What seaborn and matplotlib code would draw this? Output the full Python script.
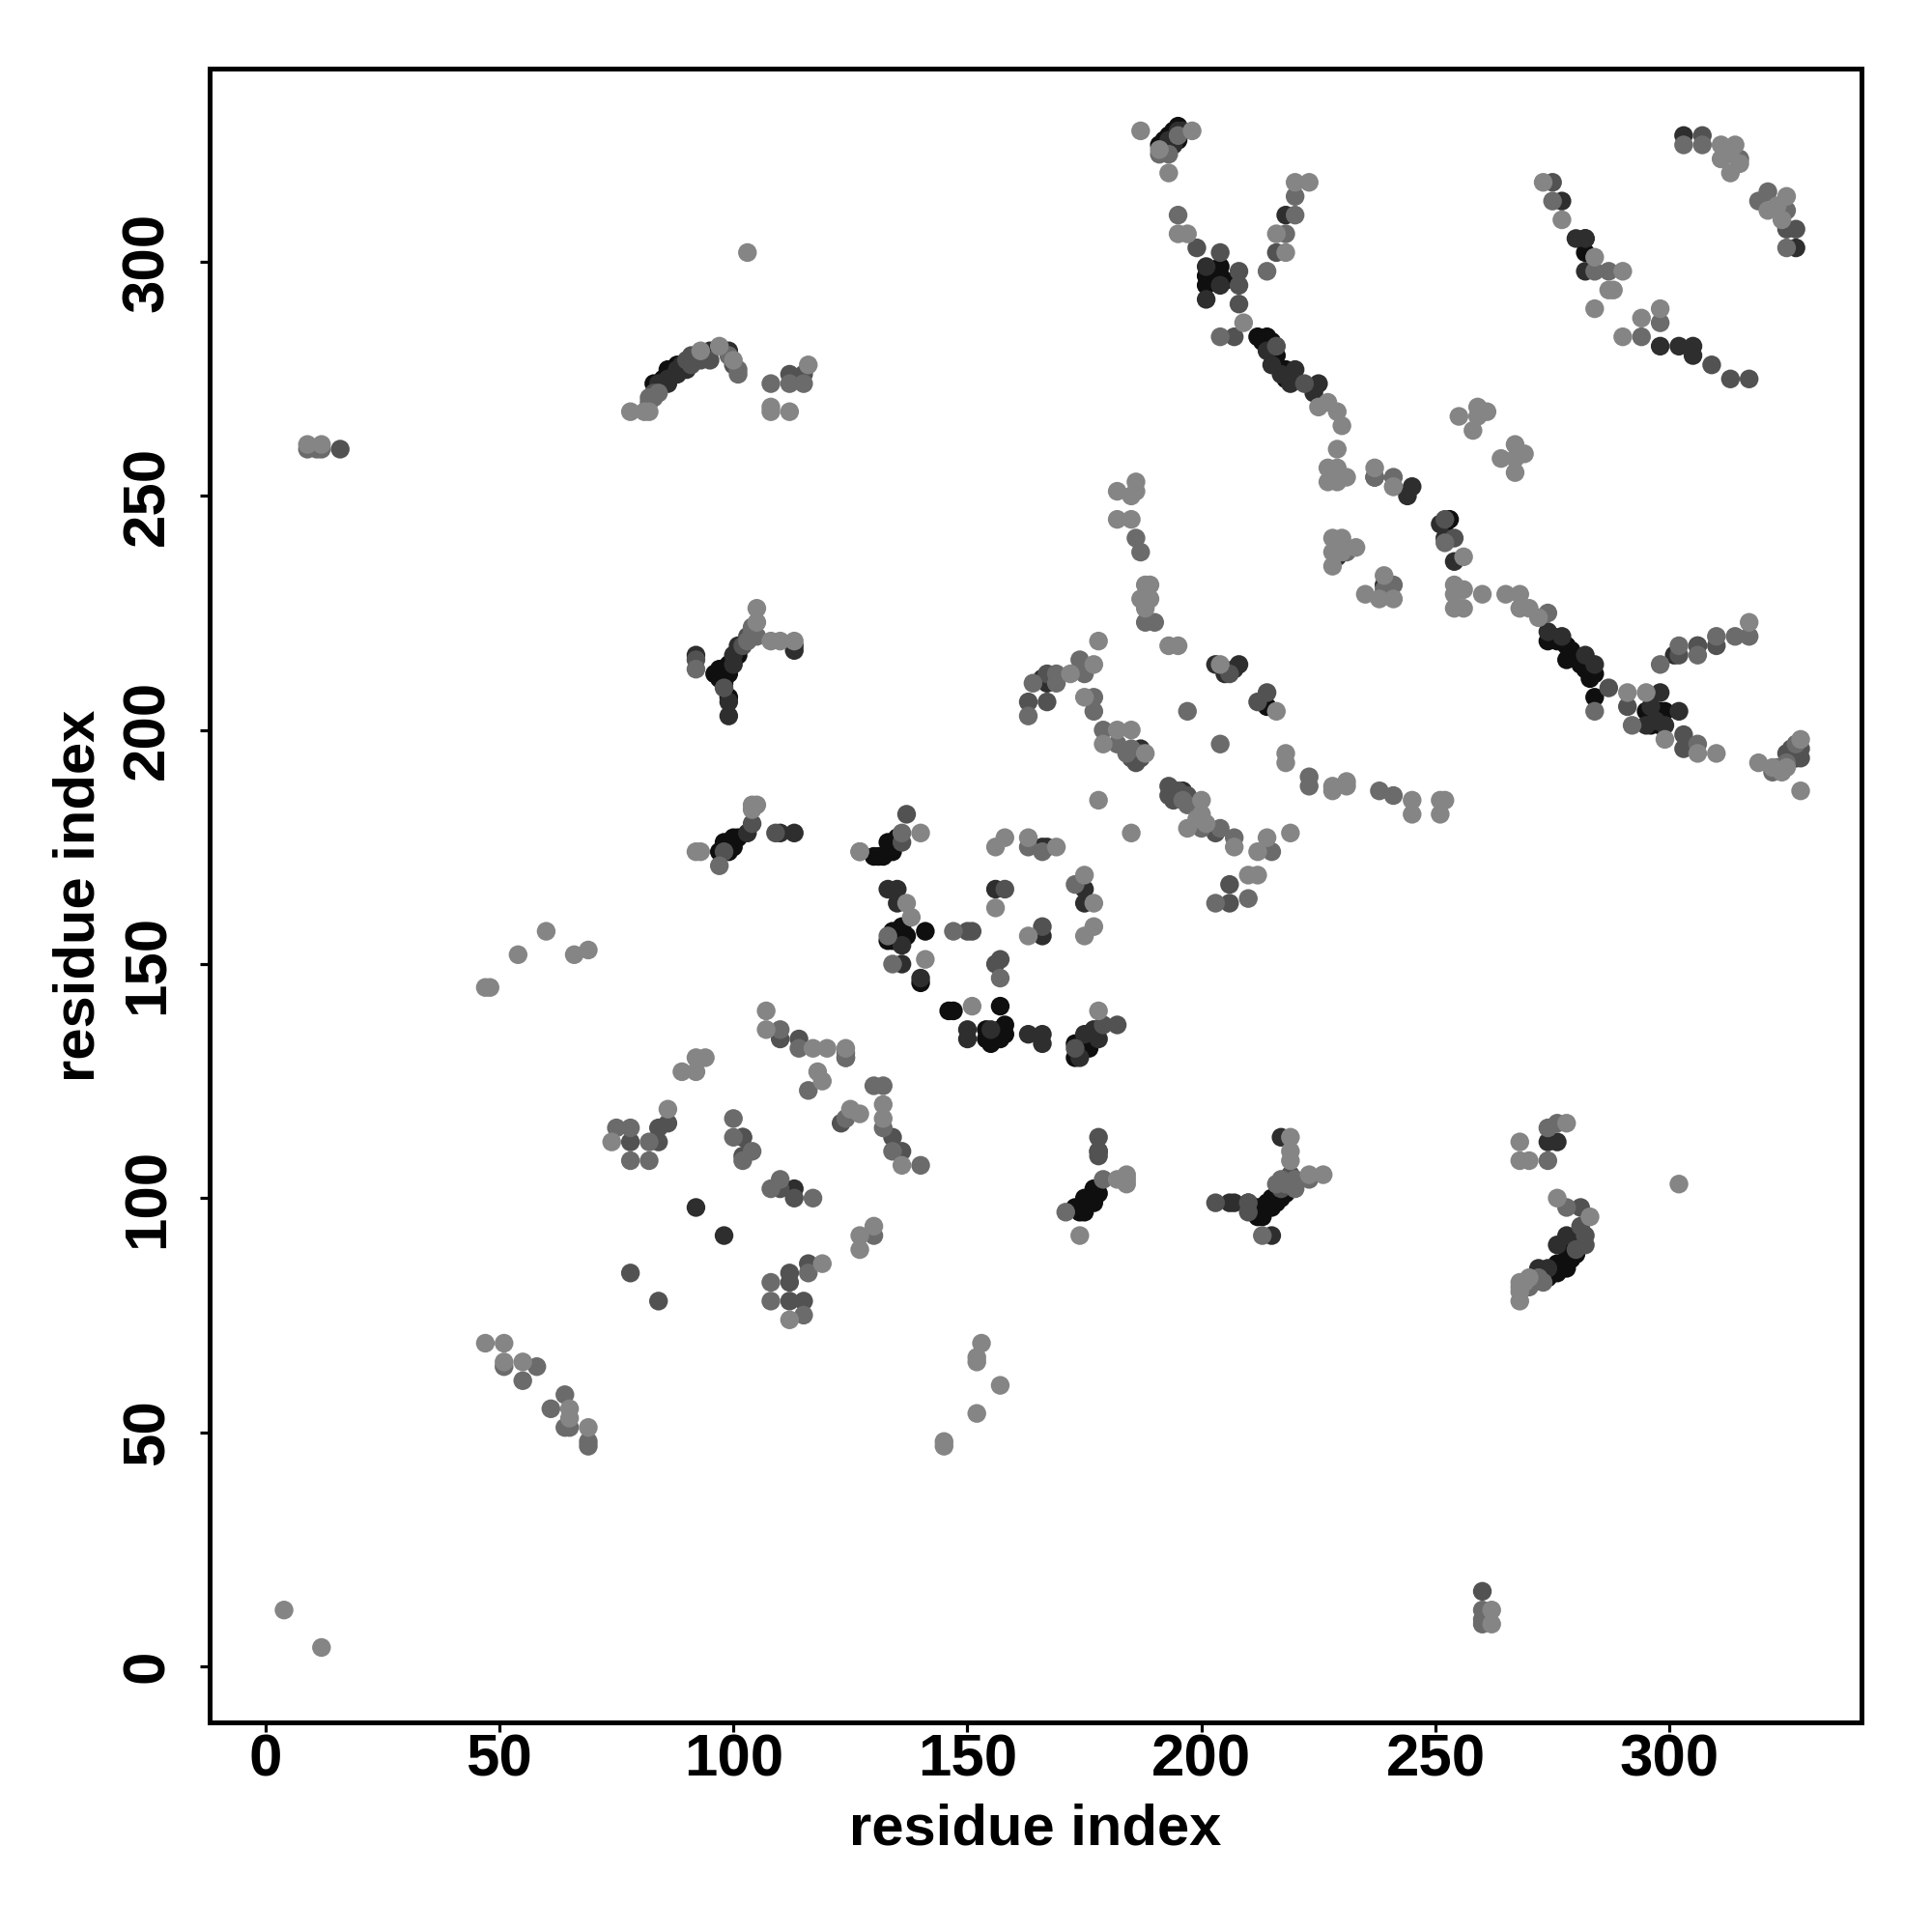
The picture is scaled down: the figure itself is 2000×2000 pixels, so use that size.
import matplotlib
matplotlib.use("Agg")
import matplotlib.pyplot as plt
import pandas as pd
import seaborn as sns

# contacts (residue i, residue j), grouped by grey level of the marker
shade_052 = [(4,12),(12,4),(9,261),(12,261),(103,302),(78,268),(81,268),(82,268),(93,281),(97,282),(100,279),
(108,269),(108,268),(112,268),(116,278),(105,226),(105,223),(108,219),(110,219),(113,219),(92,174),(93,174),
(104,183),(104,184),(105,184),(127,174),(140,178),(151,141),(141,151),(137,163),(138,160),(156,162),(178,140),
(158,177),(163,177),(156,175),(169,175),(175,169),(177,163),(177,158),(175,156),(163,156),
(172,212),(177,214),(178,219),(175,207),(179,197),(185,200),(182,200),(188,195),(178,185),(185,178),
(182,245),(185,245),(182,251),(186,253),(186,251),(185,250),(188,231),(189,231),(187,228),(189,228),(188,226),
(193,218),(195,218),(204,214),(216,204),(218,195),(218,193),(228,188),(231,188),(228,187),(231,189),(245,185),(245,182),
(251,182),(251,185),(252,185),(200,185),(197,179),(200,182),(207,175),(214,177),(212,174),(219,178),(210,169),(212,169),
(47,145),(48,145),(60,157),(54,152),(66,152),(69,153),(107,140),(107,136),(117,132),(120,132),(124,132),
(92,130),(94,130),(89,127),(92,127),(118,127),(119,125),(125,119),(127,118),(132,120),(132,117),(136,107),
(74,112),(86,119),(127,92),(130,94),(127,89),(119,86),(112,74),(47,69),(51,69),(51,65),(55,65),(69,51),(65,55),(65,53),
(153,69),(152,66),(152,65),(157,60),(152,54),(145,48),(145,47),(174,92),(182,104),(184,105),(184,103),(184,104),
(219,113),(219,110),(219,108),(223,105),(226,105),(268,112),(268,108),(270,108),(278,116),(302,103),(276,100),(283,96),
(268,82),(268,80),(268,78),(262,12),(262,9),(187,328),(191,324),(193,319),(198,328),(197,306),(195,306),(209,287),
(223,317),(220,317),(227,270),(229,268),(230,265),(225,269),(216,306),(218,302),(273,317),(277,309),(284,301),(287,294),
(288,294),(290,298),(284,290),(290,284),(294,288),(298,290),(311,325),(314,325),(311,322),(313,319),(325,314),(321,311),
(255,267),(259,269),(261,268),(258,264),(259,267),(264,258),(267,261),(269,259),(267,255),(267,258),
(229,260),(227,256),(227,253),(229,256),(229,253),(231,254),(237,256),(241,252),(256,237),
(228,241),(230,241),(228,238),(230,238),(228,235),(233,239),(235,229),(239,233),(241,228),(238,228),
(254,231),(254,226),(256,230),(256,226),(254,229),(260,229),(265,229),(268,229),(268,226),(270,226),(272,224),
(291,208),(295,208),(299,198),(306,195),(310,195),(317,223),(319,193),(328,187),(328,198),
(269,82),(270,83),(268,81),(324,191),(322,192),(325,192),(313,323),(315,321),(323,312),(324,309),(312,324),(199,181),(201,180)]

shade_042 = [(9,260),(11,260),(12,260),(82,270),(83,271),(108,274),(112,274),(115,274),(92,213),(99,280),(101,277),(101,276),
(105,220),(104,222),(97,171),(136,178),(133,156),(134,150),(147,157),(157,147),(173,167),(166,174),(163,175),(127,174),
(174,215),(175,212),(164,210),(169,212),(169,210),(177,207),(177,204),(179,200),(182,197),(184,195),(163,203),
(186,241),(187,238),(188,223),(190,223),(197,204),(204,197),(223,190),(223,188),(238,187),(241,186),
(197,184),(200,179),(204,179),(207,177),(215,174),(203,163),(210,164),
(110,136),(114,132),(124,131),(124,130),(116,123),(124,117),(130,124),(132,124),(132,115),(134,110),(140,107),
(75,115),(78,115),(78,108),(82,108),(82,112),(100,117),(100,113),(104,110),(102,108),(110,104),(108,102),(117,100),
(130,92),(116,84),(108,82),(108,78),(115,75),(51,64),(58,64),(55,61),(64,58),(61,55),(64,51),(65,51),(69,48),(69,47),
(171,97),(179,104),(213,92),(216,103),(223,104),(274,108),(274,115),(276,116),(278,98),(260,12),(260,10),(260,9),
(191,323),(193,323),(195,310),(204,284),(214,298),(218,306),(220,310),(220,314),(195,327),
(275,313),(284,298),(287,298),(298,287),(294,284),(303,325),(307,325),(315,322),(319,313),(321,315),(325,311),(325,303),
(237,254),(241,254),(252,240),(231,238),(241,231),(239,230),(274,225),(284,204),(292,201),(298,214),(306,197),
(302,218),(306,216),(310,220),(314,220),(317,220),(322,191),(323,192),(325,193),(327,197),
(82,271),(84,272),(103,219),(104,221),(271,82),(272,83),(273,82),(270,81),(218,103),(217,104),(220,104),(220,102),(185,196),(196,185)]

shade_032 = [(16,260),(83,272),(90,279),(91,280),(112,276),(115,276),(100,278),(103,220),(92,215),(104,180),(109,178),
(98,174),(137,182),(150,157),(151,157),(158,166),(157,151),(156,150),(166,158),(179,137),(182,137),(173,132),
(167,212),(167,206),(163,206),(186,193),(206,212),(212,206),(214,208),(193,186),(193,188),(195,187),(203,178),
(206,163),(206,167),(110,134),(114,134),(124,130),(123,116),(134,113),(136,110),(84,112),(84,115),(86,116),(78,112),
(102,113),(102,109),(110,102),(113,100),(116,86),(112,84),(112,82),(112,78),(115,78),(78,84),(84,78),
(178,113),(178,109),(178,110),(203,99),(210,99),(210,97),(219,103),(219,105),(217,102),(281,98),(281,94),(280,89),(260,16),
(199,303),(204,302),(208,298),(208,295),(208,291),(207,284),(216,282),(222,274),(216,302),(275,317),(309,278),(317,275),(313,275),
(307,327),(325,307),(327,307),(241,252),(254,241),(252,245),(303,199),(303,196),(291,205),(310,218),(306,218),(302,216),(287,209),
(282,92),(282,90),(185,194),(186,195),(187,194),(186,194),(187,195),(194,185),(195,186),(197,186),(136,176),(98,209),(102,218),
(326,194),(325,195),(326,196),(327,195),(328,196),(328,194),(91,278),(93,279),(95,279)]

shade_018 = [(85,274),(86,275),(88,277),(89,278),(95,281),(99,281),(92,216),(99,203),(99,206),(100,214),(113,217),(113,218),
(103,178),(110,178),(113,178),(133,166),(135,166),(135,163),(136,154),(136,150),(150,136),(150,134),(155,136),(156,166),
(166,156),(175,166),(175,163),(163,135),(166,135),(166,133),(167,210),(178,134),(177,136),(175,135),(174,130),(140,147),
(203,214),(208,214),(196,187),(187,196),(113,102),(102,113),(92,98),(98,92),(178,110),(206,99),(207,99),(215,92),(217,113),
(274,112),(276,112),(281,92),(278,92),(194,325),(195,328),(196,328),(201,292),(204,295),(201,299),(218,310),(214,281),
(215,278),(217,276),(219,274),(220,277),(224,272),(225,274),(277,313),(280,305),(282,305),(282,298),(298,282),(302,282),
(305,282),(305,280),(303,327),(327,303),(245,252),(244,250),(252,241),(254,236),(251,244),(237,254),(274,221),(277,220),
(282,216),(284,214),(295,201),(298,208),(302,204),(299,201),(301,216),(306,218),(274,85),
(84,274),(86,274),(88,276),(90,277),(101,218),(100,216),(166,211),(167,175),(166,175),(205,212),(207,213),(229,237),(239,231),
(326,195),(327,194),(296,205),(297,202),(272,85),(276,90),(193,326)]

shade_006 = [(86,276),(87,276),(84,273),(87,277),(97,211),(96,212),(98,210),(99,207),(101,216),(100,176),(99,176),(98,175),
(101,177),(130,173),(131,173),(132,173),(133,174),(134,175),(135,157),(136,156),(141,157),(140,146),(147,140),(146,140),
(157,141),(155,134),(157,136),(173,130),(174,132),(175,133),(177,135),(192,326),(195,326),(201,297),(204,297),(204,299),
(201,295),(212,284),(214,284),(274,219),(278,218),(278,215),(282,213),(284,212),(284,207),(295,204),(296,203),(298,204),
(298,201),(175,99),(177,99),(175,100),(173,98),(177,102),(212,98),(213,96),(215,100),(217,100),(275,85),(274,83),(276,86),
(278,86),(278,89),(280,91),(210,99),(282,302),(282,305),(191,325),
(85,275),(86,277),(88,278),(90,278),(83,274),(97,213),(98,212),(99,214),(99,212),(98,176),(99,175),(100,175),(99,174),(100,177),(97,174),
(133,176),(134,176),(135,177),(134,174),(134,155),(134,157),(135,155),(136,158),(136,157),(137,156),(133,155),
(154,134),(154,136),(155,133),(156,135),(157,134),(158,135),(158,137),(174,131),(174,133),(175,132),(176,134),(173,133),(176,132),
(174,98),(175,97),(176,99),(176,100),(177,100),(178,101),(174,97),(211,97),(212,96),(213,97),(214,99),(215,98),(216,99),(218,101),
(276,84),(277,85),(279,87),(280,88),(278,85),(281,90),(194,328),(195,329),(193,327),(296,201),(297,204),(299,204),(202,297),(203,296),(205,296),
(213,283),(215,283),(216,280),(218,277),(218,275),(275,220),(276,219),(279,217),(281,214),(283,213),(283,211),(252,244),(253,245),(213,206),(214,205)]

GREYS = [("0.06", shade_006), ("0.18", shade_018), ("0.32", shade_032), ("0.42", shade_042), ("0.52", shade_052)]

rows = [(x, y, g) for g, pts in GREYS for x, y in pts]
df = pd.DataFrame(rows, columns=["i", "j", "grey"])

sns.set_theme(style="white")
plt.rcParams["font.family"] = ["Liberation Sans", "DejaVu Sans"]
plt.rcParams["font.weight"] = "bold"

fig = plt.figure(figsize=(20, 20), dpi=100, facecolor="white")
ax = fig.add_axes([217/2000, 1 - 1783/2000, (1927-217)/2000, (1783-71)/2000])

sns.scatterplot(data=df, x="i", y="j", hue="grey", palette={g: g for g, _ in GREYS},
                hue_order=[g for g, _ in GREYS], s=195, linewidth=0, legend=False, ax=ax, zorder=3)

ax.set_xlim(-11.9, 341)
ax.set_ylim(-12, 341.3)
ax.set_xticks([0, 50, 100, 150, 200, 250, 300])
ax.set_yticks([0, 50, 100, 150, 200, 250, 300])
ax.tick_params(axis="both", length=7, width=2.3, color="black", labelcolor="black", labelsize=44.5, bottom=True, left=True)
ax.tick_params(axis="x", pad=1)
ax.tick_params(axis="y", pad=18)
for lab in ax.get_yticklabels():
    lab.set_rotation(90)
    lab.set_va("center")
    lab.set_fontweight("bold")
for lab in ax.get_xticklabels():
    lab.set_fontweight("bold")
for s in ax.spines.values():
    s.set_visible(True)
    s.set_color("black")
    s.set_linewidth(3.6)
ax.set_xlabel("residue index", fontsize=43, fontweight="bold", color="black", labelpad=11)
ax.set_ylabel("residue index", fontsize=43, fontweight="bold", color="black", labelpad=11)
ax.grid(False)
fig.savefig("out.png", dpi=100, facecolor="white")
